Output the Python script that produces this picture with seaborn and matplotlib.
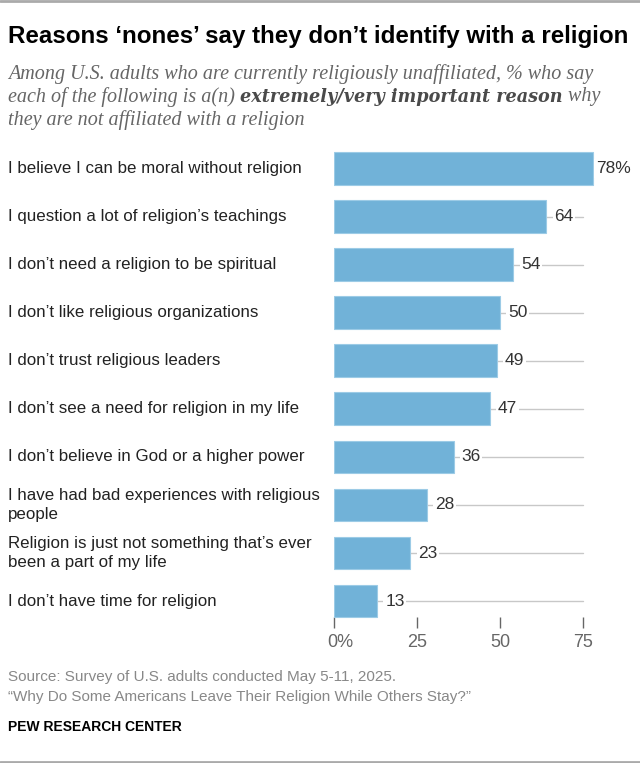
import numpy as np
import pandas as pd
import seaborn as sns
import matplotlib.pyplot as plt
import matplotlib.transforms as mtransforms

# Chart data
reasons = [
    "I believe I can be moral without religion",
    "I question a lot of religion\u2019s teachings",
    "I don\u2019t need a religion to be spiritual",
    "I don\u2019t like religious organizations",
    "I don\u2019t trust religious leaders",
    "I don\u2019t see a need for religion in my life",
    "I don\u2019t believe in God or a higher power",
    "I have had bad experiences with religious\npeople",
    "Religion is just not something that\u2019s ever\nbeen a part of my life",
    "I don\u2019t have time for religion",
]
values = [78, 64, 54, 50, 49, 47, 36, 28, 23, 13]
x_ticks = [0, 25, 50, 75]
x_tick_labels = ["0%", "25", "50", "75"]

df = pd.DataFrame({"reason": reasons, "value": values})

sns.set_theme(style="white")
plt.rcParams["font.family"] = ["Liberation Sans", "DejaVu Sans"]

W, H = 640, 763
fig = plt.figure(figsize=(W / 100, H / 100), dpi=100)

# axes geometry in pixels
x0_px, px_per_unit = 334, 3.32
xmax = 80
top_px, bottom_px = 144.5, 628
ax = fig.add_axes([x0_px / W, 1 - bottom_px / H,
                   xmax * px_per_unit / W, (bottom_px - top_px) / H])

bar_color = "#71B2D8"
sns.barplot(data=df, x="value", y="reason", orient="h", ax=ax,
            color=bar_color, width=0.68, saturation=1,
            edgecolor="#9ccbe6", linewidth=0.8, zorder=2)

ax.set_xlim(0, xmax)
ax.set_ylim(len(values) - 0.5 + 0.06, -0.5)
ax.set_xlabel("")
ax.set_ylabel("")
for s in ax.spines.values():
    s.set_visible(False)

ax.set_xticks(x_ticks)
ax.set_xticklabels(x_tick_labels)
ax.tick_params(axis="x", direction="in", length=8, width=1, color="#666666",
               labelsize=13, labelcolor="#666666", pad=4, bottom=True)
ax.set_yticks([])
# "0%" sits with its digit over the tick
first = ax.get_xticklabels()[0]
first.set_transform(first.get_transform() +
                    mtransforms.ScaledTranslation(6 / 100, 0, fig.dpi_scale_trans))

# category labels, leader lines and value labels
row_trans = mtransforms.blended_transform_factory(fig.transFigure, ax.transData)
for i, (r, v) in enumerate(zip(reasons, values)):
    fig.text(8 / W, i, r, fontsize=12.2, color="#222222", va="center",
             ha="left", linespacing=1.32, transform=row_trans)
    if v < 75:
        ax.plot([v, 75], [i, i], color="#c8c8c8", lw=1, zorder=1)
    label = f"{v}%" if i == 0 else f"{v}"
    ax.text(v + (0.9 if i == 0 else 2.4), i, label, fontsize=12.5,
            color="#333333", va="center", ha="left", zorder=3,
            bbox=dict(boxstyle="square,pad=0.1", fc="white", ec="none"))

# title and subtitle
fig.text(8 / W, 1 - 37 / H, "Reasons \u2018nones\u2019 say they don\u2019t identify with a religion",
         fontsize=17.4, fontweight="bold", color="black", va="center")

sub_kw = dict(fontsize=14.5, va="center", style="italic",
              family=["Liberation Serif", "DejaVu Serif"])
fig.text(8 / W, 1 - 74 / H,
         "Among U.S. adults who are currently religiously unaffiliated, % who say",
         color="#666666", **sub_kw)
fig.text(8 / W, 1 - 120 / H, "they are not affiliated with a religion",
         color="#666666", **sub_kw)

# second subtitle line with bold part
fig.canvas.draw()
renderer = fig.canvas.get_renderer()
xpos = 8
pieces = [("each of the following is a(n) ", "normal", "#666666", "Liberation Serif", 14.5),
          ("extremely/very important reason", "bold", "#4a4a4a", "DejaVu Serif", 12.7),
          (" why", "normal", "#666666", "Liberation Serif", 14.5)]
for piece, weight, col, fam, size in pieces:
    t = fig.text(xpos / W, 1 - 97 / H, piece, fontweight=weight, color=col,
                 fontsize=size, va="center", style="italic", family=fam)
    bb = t.get_window_extent(renderer)
    xpos = bb.x1

# footer
fig.text(8 / W, 1 - 677 / H, "Source: Survey of U.S. adults conducted May 5-11, 2025.",
         fontsize=11, color="#888888", va="center")
fig.text(8 / W, 1 - 697 / H,
         "\u201cWhy Do Some Americans Leave Their Religion While Others Stay?\u201d",
         fontsize=11, color="#888888", va="center")
fig.text(8 / W, 1 - 727 / H, "PEW RESEARCH CENTER", fontsize=10,
         fontweight="bold", color="black", va="center")

# top and bottom rules
fig.add_artist(plt.Line2D([0, 1], [1 - 1 / H, 1 - 1 / H], color="#aaaaaa", lw=2,
                          transform=fig.transFigure))
fig.add_artist(plt.Line2D([0, 1], [1 - 761.5 / H, 1 - 761.5 / H], color="#aaaaaa",
                          lw=2, transform=fig.transFigure))

fig.savefig("out.png", dpi=100, facecolor="white")
